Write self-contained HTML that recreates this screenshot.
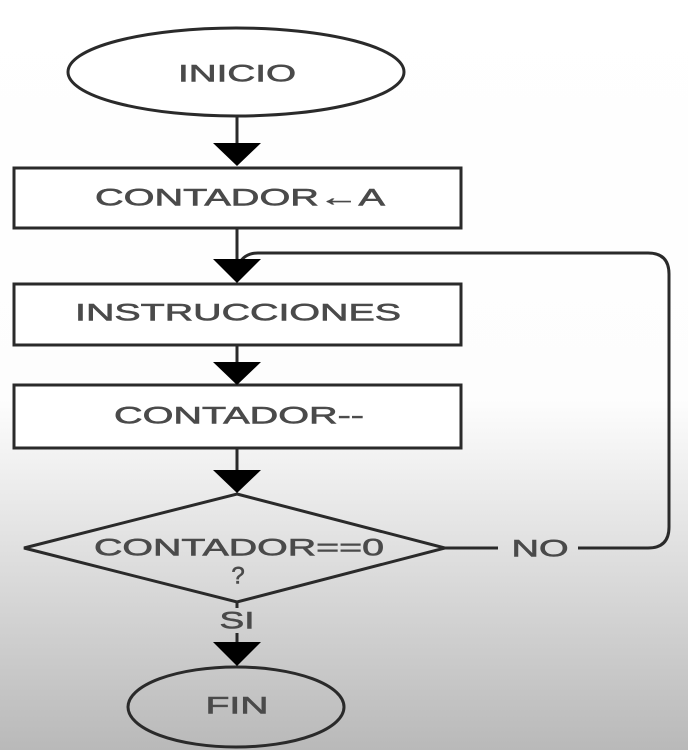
<!DOCTYPE html>
<html><head><style>
html,body{margin:0;padding:0;}
body{width:688px;height:750px;overflow:hidden;background:linear-gradient(to bottom,#fff 0px,#fdfdfd 400px,#d6d6d6 600px,#b9b9b9 750px);}
svg{display:block}
text{font-family:"Liberation Sans",sans-serif;fill:#4a4a4a;stroke:#4a4a4a;stroke-width:0.6;text-anchor:middle;dominant-baseline:central;}
</style></head><body>
<svg width="688" height="750" viewBox="0 0 688 750">
<g stroke="#2a2a2a" stroke-width="3" fill="none">
<ellipse cx="236" cy="72" rx="168" ry="44" fill="#fff"/>
<line x1="237" y1="116" x2="237" y2="145"/>
<rect x="14" y="168" width="447" height="60" fill="#fff"/>
<line x1="237" y1="228" x2="237" y2="260"/>
<rect x="14" y="284" width="447" height="61" fill="#fff"/>
<line x1="237" y1="345" x2="237" y2="364"/>
<rect x="14" y="385" width="447" height="63" fill="#fff"/>
<line x1="237" y1="448" x2="237" y2="472"/>
<polygon points="237,494 445,548 237,602 24,548"/>
<line x1="445" y1="548" x2="498" y2="548"/>
<path d="M578 548 H648 Q669 548 669 527 V274 Q669 253 648 253 H258 Q246 253 240 262"/>
<line x1="237" y1="603" x2="237" y2="608"/>
<line x1="237" y1="633" x2="237" y2="645"/>
<ellipse cx="236" cy="707" rx="108" ry="40"/>
</g>
<g fill="#000">
<polygon points="213,143 261,143 237,166"/>
<polygon points="213,259 261,259 237,283"/>
<polygon points="213,362 261,362 237,385"/>
<polygon points="213,470 261,470 237,493"/>
<polygon points="213,642 261,642 237,666"/>
</g>
<g font-size="24">
<text x="237" y="74" textLength="118" lengthAdjust="spacingAndGlyphs">INICIO</text>
<text x="240" y="198" textLength="290" lengthAdjust="spacingAndGlyphs">CONTADOR←A</text>
<text x="238" y="313" textLength="326" lengthAdjust="spacingAndGlyphs">INSTRUCCIONES</text>
<text x="239" y="416" textLength="250" lengthAdjust="spacingAndGlyphs">CONTADOR--</text>
<text x="239" y="548" textLength="290" lengthAdjust="spacingAndGlyphs">CONTADOR==0</text>
<text x="238" y="576">?</text>
<text x="540" y="549" textLength="57" lengthAdjust="spacingAndGlyphs">NO</text>
<text x="237" y="621" textLength="35" lengthAdjust="spacingAndGlyphs">SI</text>
<text x="237" y="706" textLength="63" lengthAdjust="spacingAndGlyphs">FIN</text>
</g>
</svg>
</body></html>
